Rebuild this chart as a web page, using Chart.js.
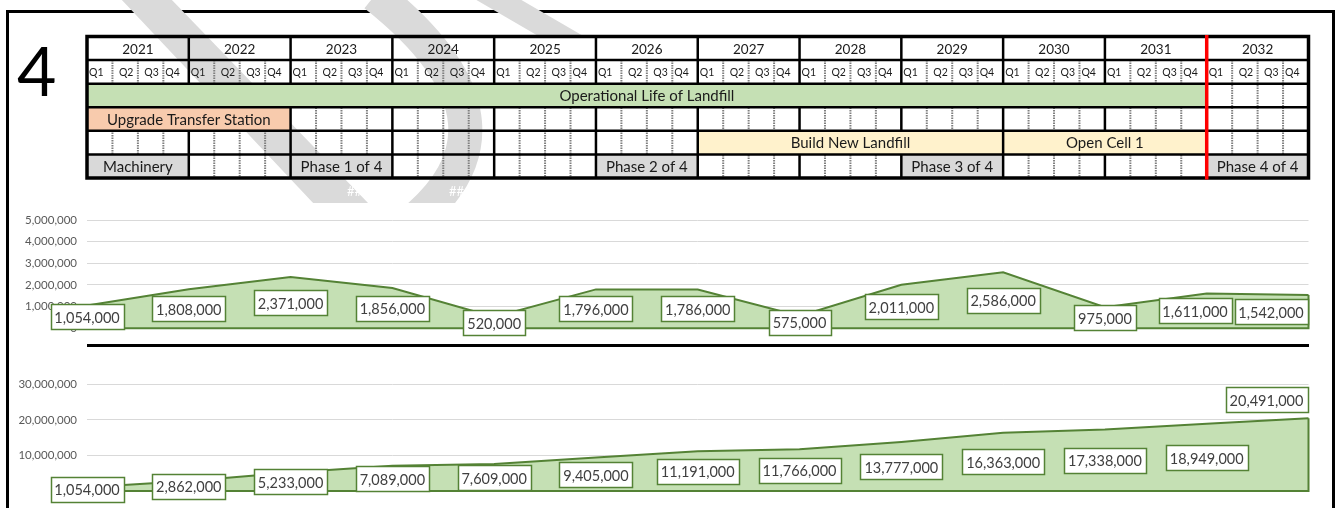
<!DOCTYPE html>
<html>
<head>
<meta charset="utf-8">
<script src="https://cdn.jsdelivr.net/npm/chart.js@4.4.1/dist/chart.umd.min.js"></script>
<style>
  body { margin: 0; background: #fff; overflow: hidden; font-family: Lato, sans-serif; }
  #page { position: relative; width: 1337px; height: 508px; overflow: hidden; }
  #frame { position: absolute; left: 6px; top: 10px; width: 1323px; height: 600px; border: 3px solid #000; }
  #big4 { position: absolute; left: 17px; top: 36px; font: 68px/68px Lato; color: #000; }
  #rule { position: absolute; left: 87px; top: 344px; width: 1222px; height: 3px; background: #000; }
  canvas { position: absolute; left: 0; }
</style>
</head>
<body>
<div id="page">
  <div id="frame"></div>
  <canvas id="gantt" width="1337" height="205" style="top:0"></canvas>
  <div id="big4">4</div>
  <canvas id="annual" width="1337" height="150" style="top:200px"></canvas>
  <div id="rule"></div>
  <canvas id="cumulative" width="1337" height="158" style="top:350px"></canvas>
</div>
<script>
// Programme (quarters counted from Q1 2021)
const years = ["2021", "2022", "2023", "2024", "2025", "2026", "2027", "2028", "2029", "2030", "2031", "2032"];
const quarters = ["Q1", "Q2", "Q3", "Q4"];
const rowKeys = ["year", "quarter", "ops", "upgrade", "build", "phase"];
const taskNames = ["Operational Life of Landfill", "Upgrade Transfer Station", "Build New Landfill", "Open Cell 1",
  "Machinery", "Phase 1 of 4", "Phase 2 of 4", "Phase 3 of 4", "Phase 4 of 4"];
const taskRows = ["ops", "upgrade", "build", "build", "phase", "phase", "phase", "phase", "phase"];
const taskStart = [0, 0, 24, 36, 0, 8, 20, 32, 44];
const taskEnd = [44, 8, 36, 44, 4, 12, 24, 36, 48];
const cutoffQuarter = 44;

// Tonnages, one point per year boundary
const pointYears = ["2021", "2022", "2023", "2024", "2025", "2026", "2027", "2028", "2029", "2030", "2031", "2032", "2033"];
const annualTonnes = [1054000, 1808000, 2371000, 1856000, 520000, 1796000, 1786000, 575000, 2011000, 2586000, 975000, 1611000, 1542000];
const cumulativeTonnes = [1054000, 2862000, 5233000, 7089000, 7609000, 9405000, 11191000, 11766000, 13777000, 16363000, 17338000, 18949000, 20491000];
const annualTicks = { max: 5000000, step: 1000000 };
const cumulativeTicks = { max: 30000000, step: 10000000 };

const rowColors = { ops: "#c5e0b4", upgrade: "#f8cbad", build: "#fff2cc", phase: "#d9d9d9" };
const GREEN = "#548235";

Chart.defaults.font.family = "Lato";

// table lines, header text, watermark
const ganttTable = {
  id: "ganttTable",
  beforeDraw(chart) {
    const ctx = chart.ctx;
    ctx.save();
    ctx.beginPath();
    ctx.rect(0, 0, chart.width, 203);
    ctx.clip();
    ctx.fillStyle = "#dadada";
    ctx.beginPath();
    ctx.moveTo(120, -2); ctx.lineTo(170, -2); ctx.lineTo(370, 205); ctx.lineTo(315, 205);
    ctx.closePath();
    ctx.fill();
    ctx.beginPath();
    ctx.moveTo(473, -2); ctx.lineTo(518, -2); ctx.lineTo(585, 37); ctx.lineTo(540, 37);
    ctx.closePath();
    ctx.fill();
    ctx.strokeStyle = "#dadada";
    ctx.lineWidth = 34;
    ctx.beginPath();
    ctx.moveTo(375, -5);
    ctx.quadraticCurveTo(545, 130, 395, 235);
    ctx.stroke();
    ctx.fillStyle = "#fff";
    ctx.font = "13px Lato";
    ctx.textBaseline = "middle";
    ctx.fillText("##", 347, 192);
    ctx.fillText("##", 449, 192);
    ctx.restore();
  },
  beforeDatasetsDraw(chart) {
    const { ctx, chartArea: a, scales: { x } } = chart;
    const rowH = a.height / rowKeys.length;
    ctx.save();
    ctx.strokeStyle = "#7f7f7f";
    ctx.lineWidth = 2;
    ctx.setLineDash([1.5, 1]);
    for (let q = 1; q < years.length * 4; q++) {
      if (q % 4 === 0) continue;
      const px = x.getPixelForValue(q);
      ctx.beginPath();
      ctx.moveTo(px, a.top + rowH);
      ctx.lineTo(px, a.bottom);
      ctx.stroke();
    }
    ctx.restore();
  },
  afterDatasetsDraw(chart) {
    const { ctx, chartArea: a, scales: { x } } = chart;
    const rowH = a.height / rowKeys.length;
    const rowTop = r => a.top + r * rowH;
    ctx.save();
    ctx.fillStyle = "#1a1a1a";
    ctx.textBaseline = "middle";
    ctx.textAlign = "center";

    ctx.font = "15px Lato";
    taskNames.forEach((name, i) => {
      const cx = (x.getPixelForValue(taskStart[i]) + x.getPixelForValue(taskEnd[i])) / 2;
      const r = rowKeys.indexOf(taskRows[i]);
      ctx.fillText(name, cx, rowTop(r) + rowH / 2 + 1);
    });

    ctx.font = "13.5px Lato";
    years.forEach((yr, i) => ctx.fillText(yr, x.getPixelForValue(i * 4 + 2), rowTop(0) + rowH / 2 + 1));

    ctx.font = "10.5px Lato";
    years.forEach((yr, i) => quarters.forEach((q, j) => {
      const l = x.getPixelForValue(i * 4 + j);
      const r = x.getPixelForValue(i * 4 + j + 1);
      const cy = rowTop(1) + rowH / 2 + 1;
      if (j === 1 || j === 2) {
        ctx.textAlign = "center";
        ctx.fillText(q, (l + r) / 2 + 1, cy);
      } else {
        ctx.textAlign = "left";
        ctx.fillText(q, l + 2, cy);
      }
    }));

    // year dividers, skipped where a task runs across them
    ctx.strokeStyle = "#000";
    ctx.lineWidth = 2.5;
    for (let k = 1; k < years.length; k++) {
      const q = k * 4;
      const px = x.getPixelForValue(q);
      rowKeys.forEach((key, r) => {
        const covered = taskRows.some((tr, i) => tr === key && taskStart[i] < q && taskEnd[i] > q);
        if (covered) return;
        ctx.beginPath();
        ctx.moveTo(px, rowTop(r));
        ctx.lineTo(px, rowTop(r + 1));
        ctx.stroke();
      });
    }
    for (let r = 1; r < rowKeys.length; r++) {
      ctx.beginPath();
      ctx.moveTo(a.left, rowTop(r));
      ctx.lineTo(a.right, rowTop(r));
      ctx.stroke();
    }
    ctx.lineWidth = 3.5;
    ctx.strokeRect(a.left, a.top, a.width, a.height);

    const cut = x.getPixelForValue(cutoffQuarter);
    ctx.strokeStyle = "#ff0000";
    ctx.beginPath();
    ctx.moveTo(cut, a.top - 1.5);
    ctx.lineTo(cut, a.bottom + 1.5);
    ctx.stroke();
    ctx.restore();
  }
};

new Chart(document.getElementById("gantt"), {
  type: "bar",
  data: {
    labels: rowKeys,
    datasets: [{
      data: taskNames.map((n, i) => ({ x: [taskStart[i], taskEnd[i]], y: taskRows[i] })),
      backgroundColor: taskRows.map(r => rowColors[r]),
      barPercentage: 1,
      categoryPercentage: 1,
      borderWidth: 0
    }]
  },
  options: {
    indexAxis: "y",
    responsive: false,
    animation: false,
    devicePixelRatio: 1,
    layout: { padding: { left: 87, right: 28.5, top: 36.5, bottom: 27 } },
    scales: {
      x: { type: "linear", min: 0, max: years.length * 4, display: false },
      y: { type: "category", labels: rowKeys, display: false }
    },
    plugins: { legend: { display: false }, tooltip: { enabled: false } }
  },
  plugins: [ganttTable]
});

// white boxed value labels + closing outline of the area
function valueBoxes(lastAbove) {
  return {
    id: "valueBoxes",
    afterDatasetsDraw(chart) {
      const { ctx, chartArea: a, scales: { y } } = chart;
      const pts = chart.getDatasetMeta(0).data;
      const values = chart.data.datasets[0].data;
      const base = y.getPixelForValue(0);
      const end = pts[pts.length - 1];
      ctx.save();
      ctx.strokeStyle = GREEN;
      ctx.lineWidth = 2;
      ctx.beginPath();
      ctx.moveTo(end.x, end.y);
      ctx.lineTo(end.x, base);
      ctx.lineTo(pts[0].x, base);
      ctx.lineTo(pts[0].x, pts[0].y);
      ctx.stroke();

      ctx.font = "14.5px Lato";
      const boxes = pts.map((p, i) => {
        const text = values[i].toLocaleString("en-US");
        return { text, w: Math.round(ctx.measureText(text).width) + 8, h: 25, cx: p.x, cy: (p.y + base) / 2 };
      });
      const last = boxes[boxes.length - 1];
      if (lastAbove) last.cy = end.y - 6 - last.h / 2;
      last.cx = Math.min(last.cx, a.right - 1 - last.w / 2);
      for (let i = boxes.length - 2; i >= 0; i--) {
        const b = boxes[i], n = boxes[i + 1];
        const overlapY = Math.abs(b.cy - n.cy) < (b.h + n.h) / 2;
        const maxCx = n.cx - n.w / 2 - 3 - b.w / 2;
        if (overlapY && b.cx > maxCx) b.cx = maxCx;
      }
      boxes.forEach(b => {
        const l = Math.round(b.cx - b.w / 2) + 0.5;
        const t = Math.round(b.cy - b.h / 2) + 0.5;
        ctx.fillStyle = "#fff";
        ctx.fillRect(l, t, b.w, b.h);
        ctx.strokeStyle = GREEN;
        ctx.lineWidth = 1.5;
        ctx.strokeRect(l, t, b.w, b.h);
        ctx.fillStyle = "#404040";
        ctx.textAlign = "center";
        ctx.textBaseline = "middle";
        ctx.fillText(b.text, b.cx, b.cy + 1.5);
      });
      ctx.restore();
    }
  };
}

function areaChart(id, values, ticks, padding, lastAbove) {
  return new Chart(document.getElementById(id), {
    type: "line",
    data: {
      labels: pointYears,
      datasets: [{
        data: values,
        fill: "origin",
        backgroundColor: "#c5e0b4",
        borderColor: GREEN,
        borderWidth: 2,
        pointRadius: 0,
        tension: 0
      }]
    },
    options: {
      responsive: false,
      animation: false,
      devicePixelRatio: 1,
      layout: { padding },
      scales: {
        x: { display: false, offset: false },
        y: {
          min: 0,
          max: ticks.max,
          afterFit(scale) { scale.width = 87; },
          ticks: {
            stepSize: ticks.step,
            padding: 10,
            color: "#595959",
            font: { size: 11.5 },
            callback: v => v.toLocaleString("en-US")
          },
          grid: { color: "#d9d9d9", lineWidth: 1, drawTicks: false },
          border: { display: false }
        }
      },
      plugins: { legend: { display: false }, tooltip: { enabled: false } }
    },
    plugins: [valueBoxes(lastAbove)]
  });
}

areaChart("annual", annualTonnes, annualTicks, { left: 0, right: 28.5, top: 20, bottom: 21.7 }, false);
areaChart("cumulative", cumulativeTonnes, cumulativeTicks, { left: 0, right: 28.5, top: 34.3, bottom: 13.7 }, true);
</script>
</body>
</html>
